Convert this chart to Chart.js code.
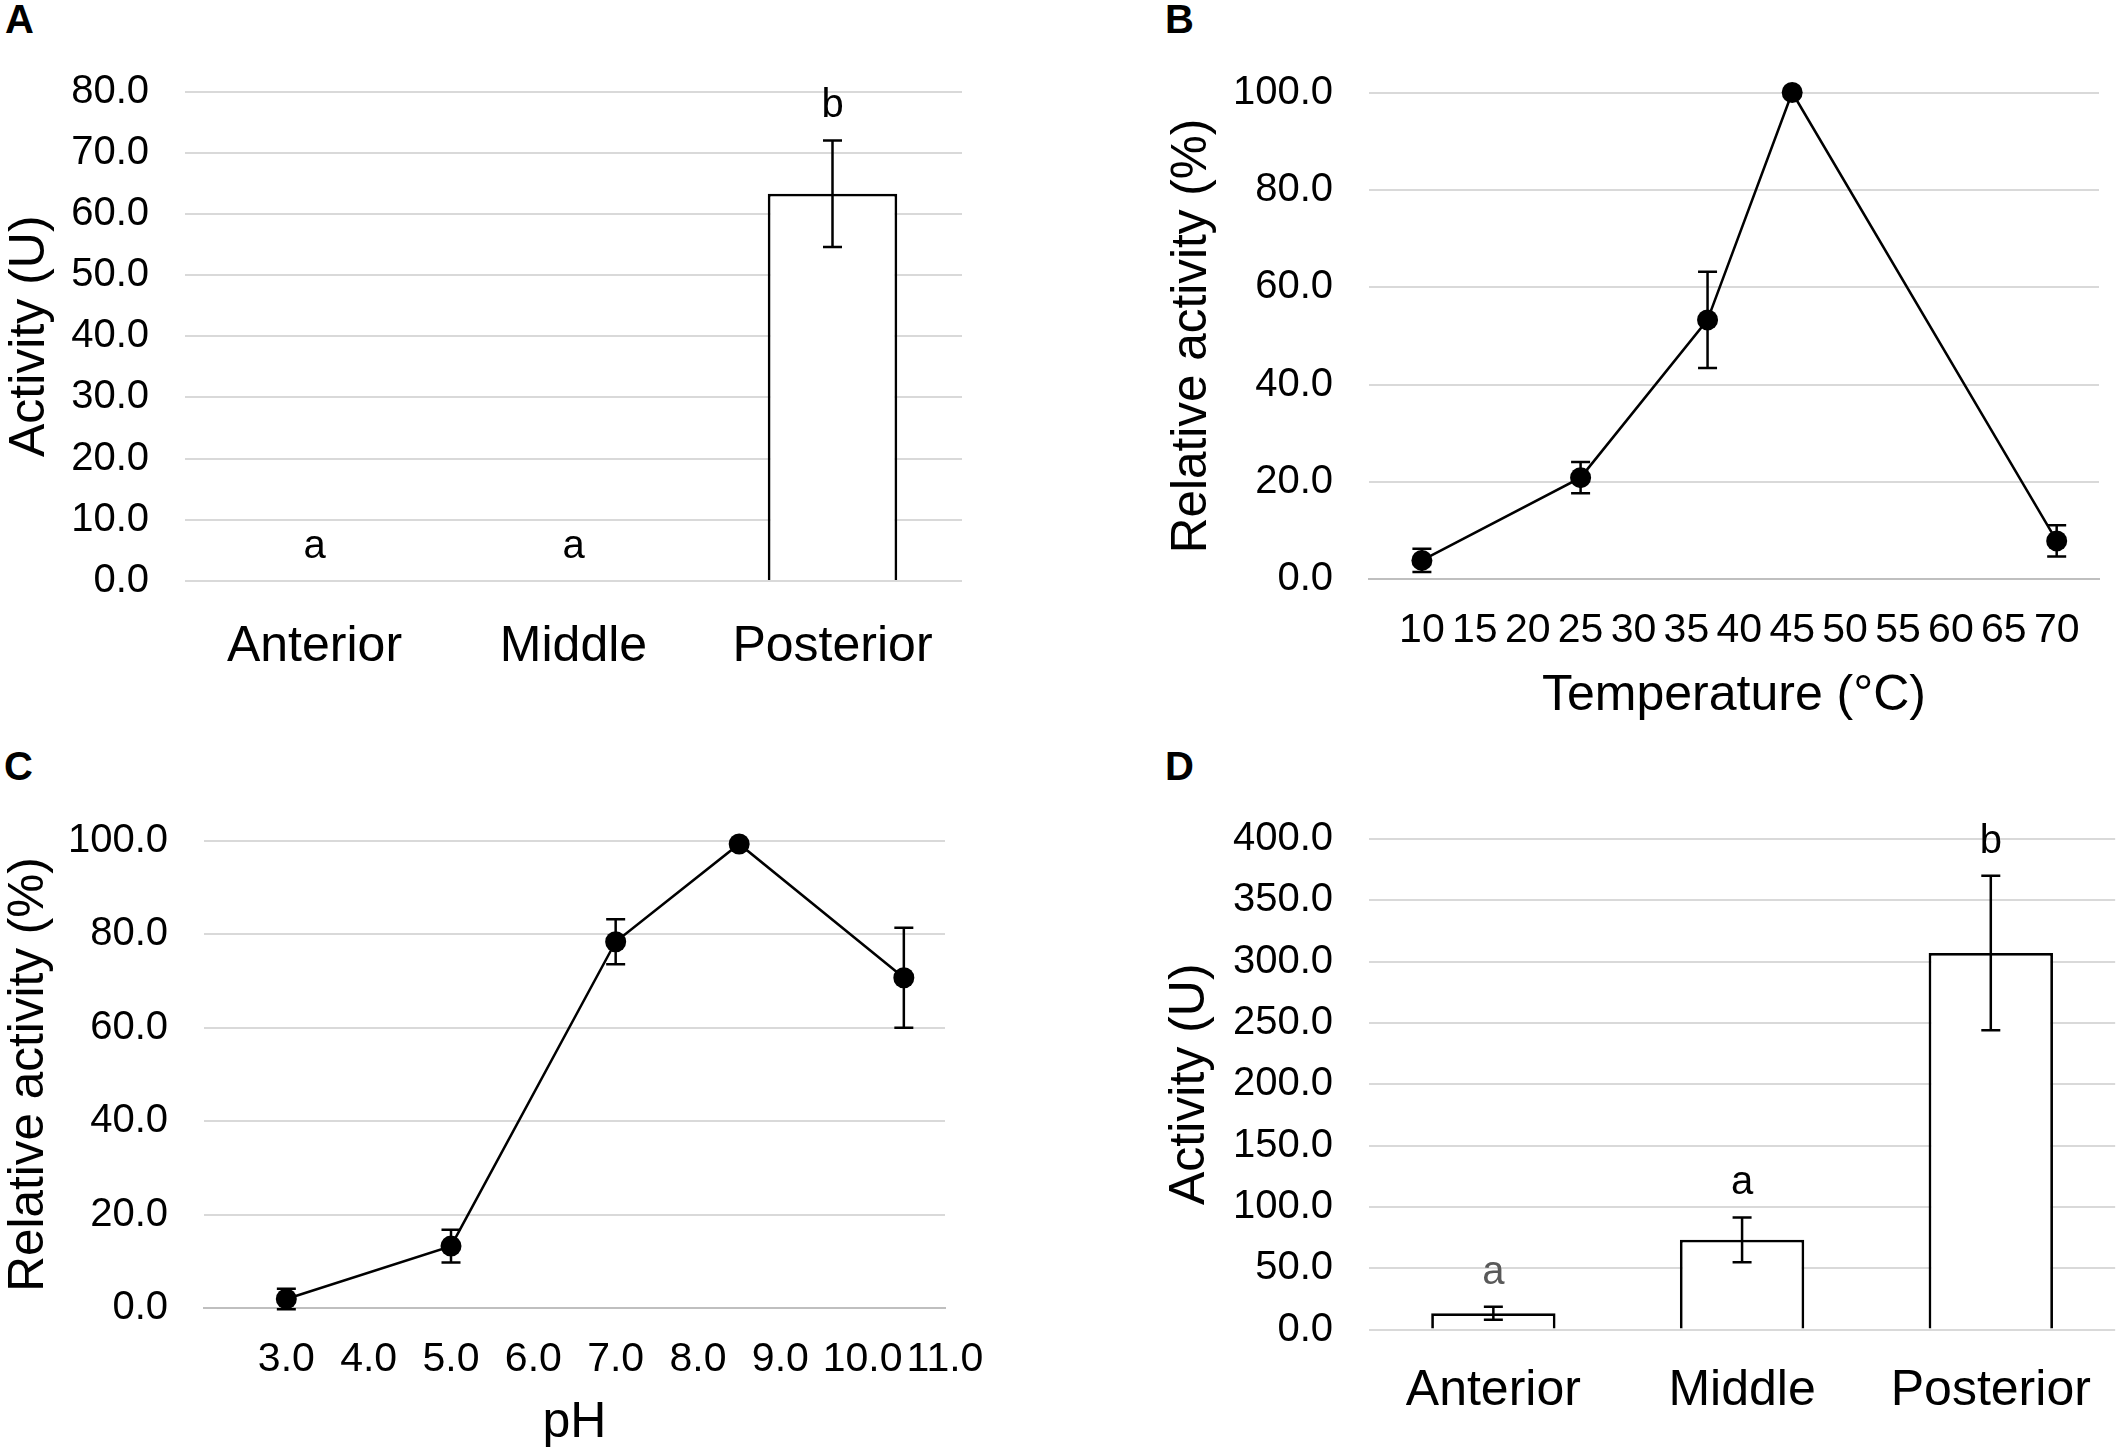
<!DOCTYPE html>
<html>
<head>
<meta charset="UTF-8">
<title>Enzyme activity - gut sections, temperature and pH</title>
<script src="https://cdn.jsdelivr.net/npm/chart.js@4"></script>
<style>
    html, body { margin: 0; padding: 0; background: #fff; overflow: hidden; }
    body { width: 2123px; height: 1453px; position: relative; font-family: "Liberation Sans", Arial, sans-serif; }
    canvas { position: absolute; }
    /* panel letters */
    .tag { position: absolute; font-weight: bold; font-size: 40px; line-height: 40px; }
</style>
</head>
<body>
<div class="tag" style="left:5px; top:-1px">A</div>
<div class="tag" style="left:1165px; top:-1px">B</div>
<div class="tag" style="left:4px; top:746px">C</div>
<div class="tag" style="left:1165px; top:746px">D</div>

<canvas id="chartA" width="1060" height="720" style="left:0; top:0"></canvas>
<canvas id="chartB" width="960" height="726" style="left:1163px; top:0"></canvas>
<canvas id="chartC" width="1060" height="723" style="left:0; top:730px"></canvas>
<canvas id="chartD" width="963" height="723" style="left:1160px; top:730px"></canvas>

<script>
// A and D: activity in the gut sections
const sections = ['Anterior', 'Middle', 'Posterior'];
const activityA = [0, 0, 63.3];
const errorA = [0, 0, 8.7];
const lettersA = ['a', 'a', 'b'];
const activityD = [13.2, 73.1, 307.0];
const errorD = [5.3, 18.3, 63.0];
const lettersD = ['a', 'a', 'b'];

// B: temperature
const temps = [10, 25, 37, 45, 70];
const tempActivity = [3.9, 20.9, 53.3, 100.0, 7.9];
const tempError = [2.4, 3.2, 9.9, 0, 3.2];
const tempTicks = [10, 15, 20, 25, 30, 35, 40, 45, 50, 55, 60, 65, 70];

// C: pH
const phs = [3, 5, 7, 8.5, 10.5];
const phActivity = [2.0, 13.3, 78.4, 99.3, 70.7];
const phError = [2.2, 3.5, 4.8, 0, 10.7];
const phTicks = [3, 4, 5, 6, 7, 8, 9, 10, 11];

Chart.defaults.font.family = '"Liberation Sans", Arial, sans-serif';
Chart.defaults.color = '#000';

// error bars, read from dataset.errors
const errorBars = {
    id: 'errorBars',
    beforeDatasetsDraw(chart) { if (chart.config.type !== 'bar') drawErrors(chart); },
    afterDatasetsDraw(chart) { if (chart.config.type === 'bar') drawErrors(chart); }
};

function drawErrors(chart) {
    const ds = chart.data.datasets[0];
    if (!ds.errors) return;
    const meta = chart.getDatasetMeta(0);
    const y = chart.scales.y;
    const ctx = chart.ctx;
    ctx.save();
    ctx.strokeStyle = '#000';
    ctx.lineWidth = 2.5;
    ds.errors.forEach(function (e, i) {
        if (!e) return;
        const v = typeof ds.data[i] === 'object' ? ds.data[i].y : ds.data[i];
        const x = meta.data[i].x;
        const top = y.getPixelForValue(v + e);
        const bot = y.getPixelForValue(v - e);
        ctx.beginPath();
        ctx.moveTo(x, top); ctx.lineTo(x, bot);
        ctx.moveTo(x - 9.5, top); ctx.lineTo(x + 9.5, top);
        ctx.moveTo(x - 9.5, bot); ctx.lineTo(x + 9.5, bot);
        ctx.stroke();
    });
    ctx.restore();
}

// significance letters above the error bars
const groupLetters = {
    id: 'groupLetters',
    afterDatasetsDraw(chart) {
        const ds = chart.data.datasets[0];
        if (!ds.letters) return;
        const meta = chart.getDatasetMeta(0);
        const y = chart.scales.y;
        const ctx = chart.ctx;
        ctx.save();
        ctx.font = '40px "Liberation Sans", Arial, sans-serif';
        ctx.textAlign = 'center';
        ctx.textBaseline = 'middle';
        ds.letters.forEach(function (t, i) {
            const top = y.getPixelForValue(ds.data[i] + (ds.errors[i] || 0));
            ctx.fillStyle = (ds.letterColors && ds.letterColors[i]) || '#000';
            ctx.fillText(t, meta.data[i].x, top - 34);
        });
        ctx.restore();
    }
};

function yAxis(max, step, title, titleSize, width) {
    return {
        min: 0,
        max: max,
        ticks: { stepSize: step, padding: 36, font: { size: 40 }, callback: v => v.toFixed(1) },
        grid: { color: '#d9d9d9', lineWidth: 2, drawTicks: false },
        border: { display: false },
        title: { display: true, text: title, font: { size: titleSize }, padding: 0 },
        afterFit: s => { s.width = width; }
    };
}

function catAxis(height, pad) {
    return {
        type: 'category',
        grid: { display: false, drawTicks: false },
        border: { display: false },
        ticks: { font: { size: 50 }, padding: pad, autoSkip: false, maxRotation: 0 },
        afterFit: s => { s.height = height; }
    };
}

function numAxis(min, max, tickVals, digits, title, height) {
    return {
        type: 'linear',
        min: min,
        max: max,
        afterBuildTicks: s => { s.ticks = tickVals.map(v => ({ value: v })); },
        ticks: { font: { size: 41 }, padding: 27, autoSkip: false, maxRotation: 0, callback: v => v.toFixed(digits) },
        grid: { display: false, drawTicks: false },
        border: { display: true, color: '#bfbfbf', width: 2 },
        title: { display: true, text: title, font: { size: 50 }, padding: 0 },
        afterFit: s => { s.height = height; }
    };
}

function common(top, right) {
    return {
        responsive: false,
        animation: false,
        devicePixelRatio: 1,
        events: [],
        layout: { autoPadding: false, padding: { left: 0, top: top, right: right, bottom: 0 } },
        plugins: { legend: { display: false }, tooltip: { enabled: false } }
    };
}

function barChart(id, values, errors, letters, letterColors, yMax, yStep, yWidth, top, right, xHeight, xPad) {
    const opts = common(top, right);
    opts.scales = { x: catAxis(xHeight, xPad), y: yAxis(yMax, yStep, 'Activity (U)', 50, yWidth) };
    new Chart(document.getElementById(id), {
        type: 'bar',
        data: {
            labels: sections,
            datasets: [{
                data: values,
                errors: errors,
                letters: letters,
                letterColors: letterColors,
                backgroundColor: '#fff',
                borderColor: '#000',
                borderWidth: 2.75,
                categoryPercentage: 1,
                barPercentage: 0.5
            }]
        },
        options: opts,
        plugins: [errorBars, groupLetters]
    });
}

function lineChart(id, xs, ys, errors, xAxis, yWidth, top, right) {
    const opts = common(top, right);
    opts.scales = { x: xAxis, y: yAxis(100, 20, 'Relative activity (%)', 49.5, yWidth) };
    new Chart(document.getElementById(id), {
        type: 'scatter',
        data: {
            datasets: [{
                data: xs.map((x, i) => ({ x: x, y: ys[i] })),
                errors: errors,
                showLine: true,
                clip: false,
                borderColor: '#000',
                borderWidth: 2.5,
                pointRadius: 10.5,
                pointBackgroundColor: '#000',
                pointBorderWidth: 0
            }]
        },
        options: opts,
        plugins: [errorBars]
    });
}

barChart('chartA', activityA, errorA, lettersA, null, 80, 10, 185, 91.5, 98, 139, 36);
lineChart('chartB', temps, tempActivity, tempError,
    numAxis(5, 74, tempTicks, 0, 'Temperature (°C)', 146.6), 206, 92.5, 24);
lineChart('chartC', phs, phActivity, phError,
    numAxis(2, 11, phTicks, 1, 'pH', 144.7), 204, 110.7, 115);
barChart('chartD', activityD, errorD, lettersD, ['#595959', '#000', '#000'], 400, 50, 209, 109, 4, 123.5, 31.5);
</script>
</body>
</html>
